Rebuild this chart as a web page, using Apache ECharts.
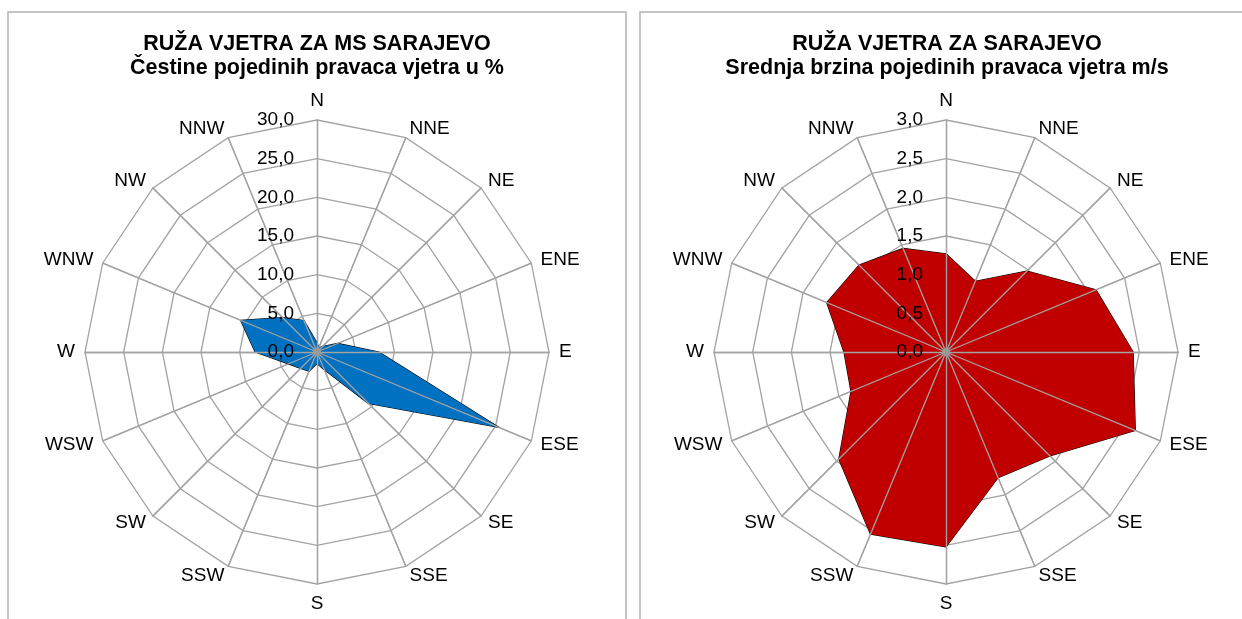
<!DOCTYPE html>
<html>
<head>
<meta charset="utf-8">
<script src="https://cdn.jsdelivr.net/npm/echarts@6/dist/echarts.min.js"></script>
<style>
    html, body { margin: 0; padding: 0; background: #fff; }
    #chart { width: 1242px; height: 619px; }
</style>
</head>
<body>
<div id="chart"></div>
<script>
// pravci vjetra, u smjeru kazaljke na satu od N
const directions = ['N', 'NNE', 'NE', 'ENE', 'E', 'ESE', 'SE', 'SSE', 'S', 'SSW', 'SW', 'WSW', 'W', 'WNW', 'NW', 'NNW'];
// čestine pravaca (%)
const frequencyPct = [1.2, 0.6, 1.0, 2.9, 8.0, 25.5, 9.4, 2.5, 1.5, 2.7, 3.0, 4.0, 8.0, 10.7, 6.3, 4.4];
// srednja brzina (m/s)
const meanSpeed = [1.27, 0.99, 1.48, 2.10, 2.42, 2.65, 1.90, 1.76, 2.52, 2.55, 1.96, 1.33, 1.32, 1.67, 1.59, 1.45];
// skale
const freqMax = 30;
const freqStep = 5;
const speedMax = 3;
const speedStep = 0.5;
const ringCount = 6;

// radar ide suprotno od kazaljke, pa okrenemo redoslijed
const ccw = arr => [arr[0]].concat(arr.slice(1).reverse());

const gridColor = '#a3a3a3';
const font = 'Liberation Sans, Arial, sans-serif';
const fmt = v => Number(v).toFixed(1).replace('.', ',');
const R = 232;

function makeRadars(center, max) {
    const names = ccw(directions);
    const base = {
        center: center,
        radius: R,
        startAngle: 90,
        shape: 'polygon',
        splitNumber: ringCount,
        nameGap: 10,
        axisName: { color: '#000', fontSize: 19, fontFamily: font },
        splitLine: { lineStyle: { color: gridColor, width: 1.3 } },
        splitArea: { show: false },
        axisLine: { lineStyle: { color: gridColor, width: 1.3 } },
        axisTick: { show: false },
        axisLabel: { show: false },
        indicator: names.map(n => ({ name: n, min: 0, max: max }))
    };
    // drugi radar samo za zrake preko ispune
    const overlay = {
        center: center,
        radius: R,
        startAngle: 90,
        shape: 'polygon',
        splitNumber: ringCount,
        z: 5,
        axisName: { show: false },
        splitLine: { show: false },
        splitArea: { show: false },
        axisLine: { lineStyle: { color: gridColor, width: 1.3 } },
        axisTick: { show: false },
        axisLabel: { show: false },
        indicator: names.map(n => ({ name: n, min: 0, max: max }))
    };
    return [base, overlay];
}

// polarna os samo za oznake vrijednosti uz N zraku
function makeRadiusAxis(max, step) {
    return {
        polarIndex: 0,
        min: 0, max: max, interval: step,
        z: 8,
        axisLine: { show: false },
        axisTick: { show: false },
        splitLine: { show: false },
        axisLabel: {
            show: true, color: '#000', fontSize: 19, fontFamily: font,
            margin: 23, formatter: fmt, showMinLabel: true,
            verticalAlign: 'middle', padding: [6, 0, 0, 0]
        }
    };
}

const myChart = echarts.init(document.getElementById('chart'));

const titleStyle = { color: '#000', fontSize: 21.5, fontWeight: 'bold', fontFamily: font, lineHeight: 22 };

let option = {
    animation: false,
    title: [
        {
            text: 'RUŽA VJETRA ZA MS SARAJEVO',
            subtext: 'Čestine pojedinih pravaca vjetra u %',
            left: 317, top: 33, textAlign: 'center', itemGap: 2, padding: 0,
            textStyle: titleStyle, subtextStyle: titleStyle
        },
        {
            text: 'RUŽA VJETRA ZA SARAJEVO',
            subtext: 'Srednja brzina pojedinih pravaca vjetra m/s',
            left: 947, top: 33, textAlign: 'center', itemGap: 2, padding: 0,
            textStyle: titleStyle, subtextStyle: titleStyle
        }
    ],
    graphic: [
        { type: 'rect', shape: { x: 8, y: 12, width: 618, height: 700 }, style: { fill: 'none', stroke: '#b3b3b3', lineWidth: 1.5 }, silent: true },
        { type: 'rect', shape: { x: 640, y: 12, width: 700, height: 700 }, style: { fill: 'none', stroke: '#b3b3b3', lineWidth: 1.5 }, silent: true },
        // sivo središte gdje se zrake sastaju
        { type: 'circle', shape: { cx: 317, cy: 352, r: 4 }, style: { fill: '#999' }, z: 10, silent: true },
        { type: 'circle', shape: { cx: 946, cy: 352, r: 4 }, style: { fill: '#999' }, z: 10, silent: true }
    ],
    polar: [
        { center: [317, 352], radius: [0, R] },
        { center: [946, 352], radius: [0, R] }
    ],
    angleAxis: [
        { polarIndex: 0, type: 'value', startAngle: 90, show: false },
        { polarIndex: 1, type: 'value', startAngle: 90, show: false }
    ],
    radiusAxis: [
        makeRadiusAxis(freqMax, freqStep),
        Object.assign(makeRadiusAxis(speedMax, speedStep), { polarIndex: 1 })
    ],
    radar: makeRadars([317, 352], freqMax).concat(makeRadars([946, 352], speedMax)),
    series: [
        {
            type: 'radar',
            radarIndex: 0,
            symbol: 'none',
            lineStyle: { color: '#000', width: 1.2 },
            areaStyle: { color: '#0070c0', opacity: 1 },
            data: [{ value: ccw(frequencyPct), name: 'Čestine' }]
        },
        {
            type: 'radar',
            radarIndex: 2,
            symbol: 'none',
            lineStyle: { color: '#000', width: 1.2 },
            areaStyle: { color: '#c00000', opacity: 1 },
            data: [{ value: ccw(meanSpeed), name: 'Brzina' }]
        }
    ]
};

myChart.setOption(option);
</script>
</body>
</html>
